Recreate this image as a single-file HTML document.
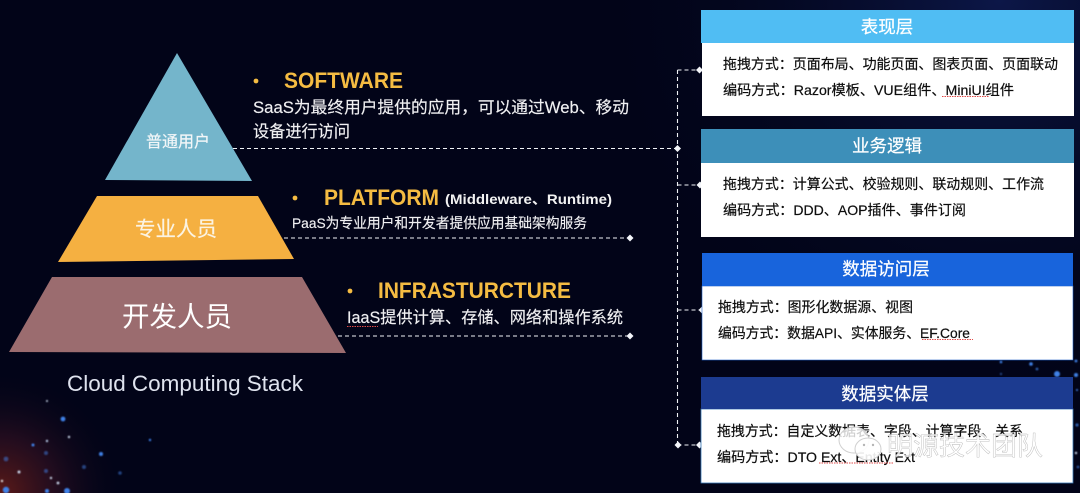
<!DOCTYPE html>
<html lang="zh"><head><meta charset="utf-8"><title>Cloud Computing Stack</title>
<style>
html,body{margin:0;padding:0;background:#020418;width:1080px;height:493px;overflow:hidden}
svg{display:block}
text{font-family:"Liberation Sans","Noto Sans CJK SC",sans-serif}
.c{font-family:"Noto Sans CJK TC",sans-serif}
.body{font-size:14px;fill:#0a0a0a;stroke:#0a0a0a;stroke-width:.18}
.head{font-size:17.5px;fill:#fff;text-anchor:middle;stroke:#fff;stroke-width:.2}
.ttl{font-size:22px;font-weight:bold;fill:#f5bc42}
.desc{fill:#f0f0f2;stroke:#f0f0f2;stroke-width:.15}
.dash{stroke:#f0f2f6;stroke-width:1.1;stroke-dasharray:4 3;fill:none}
.dm{fill:#f4f6fa}
.sq{stroke:#e04a48;stroke-width:1.1;stroke-dasharray:1.5 1;fill:none}
</style></head><body>
<svg width="1080" height="493" viewBox="0 0 1080 493" xmlns="http://www.w3.org/2000/svg">
<defs>
<radialGradient id="red" gradientUnits="userSpaceOnUse" cx="0" cy="493" r="125"><stop offset="0" stop-color="#5c1a18"/><stop offset=".45" stop-color="#2c0f20" stop-opacity=".75"/><stop offset="1" stop-color="#020418" stop-opacity="0"/></radialGradient>
<radialGradient id="blu" gradientUnits="userSpaceOnUse" cx="1000" cy="0" r="420"><stop offset="0" stop-color="#0c1748"/><stop offset="1" stop-color="#020418" stop-opacity="0"/></radialGradient>
<filter id="b" x="-5%" y="-20%" width="110%" height="140%"><feGaussianBlur stdDeviation=".35"/></filter>
<filter id="s" x="-100%" y="-100%" width="300%" height="300%"><feGaussianBlur stdDeviation=".8"/></filter>
</defs>
<rect width="1080" height="493" fill="#020418"/>
<rect width="1080" height="493" fill="url(#blu)"/>
<rect y="340" width="150" height="153" fill="url(#red)"/>

<g filter="url(#s)" fill="#3f82e8">
<circle cx="63" cy="419" r="2.4"/><circle cx="101" cy="454" r="2"/><circle cx="33" cy="445" r="1.5"/><circle cx="47" cy="441" r="1.2" fill="#b8cce8"/>
<circle cx="6" cy="459" r="2.4" opacity=".5"/><circle cx="46" cy="453" r="2" opacity=".5"/><circle cx="84" cy="467" r="2" opacity=".5"/><circle cx="46" cy="471" r="2" opacity=".5"/>
<circle cx="19" cy="472" r="1.5" fill="#c8d4e8"/><circle cx="51" cy="478" r="1.2" fill="#c8d4e8"/><circle cx="58" cy="483" r="1.4" fill="#c8d4e8"/><circle cx="2" cy="481" r="1.2" fill="#e0e0e0"/>
<circle cx="6" cy="490" r="3.2"/><circle cx="47" cy="491" r="2"/><circle cx="67" cy="491" r="3"/><circle cx="150" cy="440" r="1.2"/><circle cx="120" cy="473" r="1.8" opacity=".5"/><circle cx="69" cy="437" r="1.2" fill="#c8d4e8"/><circle cx="47" cy="401" r="1" fill="#c8d4e8"/>
<circle cx="1057" cy="374" r="3"/><circle cx="1031" cy="364" r="1.8"/><circle cx="1037" cy="369" r="1.4" opacity=".7"/><circle cx="1076" cy="375" r="2"/><circle cx="1076" cy="361" r="1.4"/><circle cx="1001" cy="362" r="1.3"/><circle cx="1001" cy="374" r="1.2" opacity=".5"/><circle cx="1077" cy="390" r="1"/><circle cx="1077" cy="425" r="1.6" opacity=".7"/><circle cx="1076" cy="453" r="1.2" fill="#c8d4e8"/><circle cx="1078" cy="467" r="1.4" opacity=".6"/>
</g>

<polygon points="177,53 105,180 252,181" fill="#74b5cb"/>
<polygon points="97,196 258,196 294,259 58,262" fill="#f5b041"/>
<polygon points="52,277 302,277 346,353 9,352" fill="#9b6c6f"/>

<g filter="url(#b)">
<text x="178" y="147" font-size="16" fill="#f2f6f8" stroke="#f2f6f8" stroke-width=".2" text-anchor="middle">普通用户</text>
<text x="176" y="236" font-size="20.5" fill="#fbf3e2" stroke="#fbf3e2" stroke-width=".2" text-anchor="middle">专业人员</text>
<text x="177" y="326" font-size="27.5" fill="#fff" text-anchor="middle">开发人员</text>
<text x="67" y="391" font-size="22" fill="#dfe3ee" textLength="236" lengthAdjust="spacingAndGlyphs">Cloud Computing Stack</text>

<circle cx="256" cy="81" r="2.4" fill="#f5bc42"/>
<text class="ttl" x="284" y="88" textLength="119" lengthAdjust="spacingAndGlyphs">SOFTWARE</text>
<text class="desc" x="253" y="113" font-size="16.2" textLength="376" lengthAdjust="spacingAndGlyphs">SaaS为最终用户提供的应用，可以通过Web、移动</text>
<text class="desc" x="253" y="137" font-size="16.2" textLength="97" lengthAdjust="spacingAndGlyphs">设备进行访问</text>

<circle cx="295" cy="198" r="2.4" fill="#f5bc42"/>
<text class="ttl" x="324" y="205" textLength="115" lengthAdjust="spacingAndGlyphs">PLATFORM</text>
<text x="445" y="204" font-size="14" font-weight="bold" fill="#f2f2f2" textLength="167" lengthAdjust="spacingAndGlyphs">(Middleware、Runtime)</text>
<text class="desc" x="292" y="228" font-size="14" textLength="295" lengthAdjust="spacingAndGlyphs">PaaS为专业用户和开发者提供应用基础架构服务</text>

<circle cx="350" cy="291" r="2.4" fill="#f5bc42"/>
<text class="ttl" x="378" y="298" textLength="193" lengthAdjust="spacingAndGlyphs">INFRASTURCTURE</text>
<text class="desc" x="347" y="323" font-size="16.4" textLength="276" lengthAdjust="spacingAndGlyphs">IaaS提供计算、存储、网络和操作系统</text>
</g>
<path class="sq" d="M347 326.5H378"/>

<path class="dash" d="M233 148.5H677M284 238H630M338 336H630M677.5 70V445M677.5 70H700M677.5 185H700M677.5 310H701M677.5 445H699"/>
<g class="dm">
<path d="M677.5 145l3.5 3.5-3.5 3.5-3.5-3.5z"/><path d="M630 234.500l3.500 3.500-3.500 3.500-3.500-3.500z"/><path d="M630 332.500l3.500 3.500-3.500 3.500-3.500-3.500z"/>
<path d="M678 441.500l3.500 3.500-3.500 3.500-3.500-3.500z"/><path d="M699.5 66.500l3.500 3.500-3.500 3.500-3.500-3.500z"/><path d="M700 181.500l3.500 3.500-3.500 3.500-3.500-3.500z"/><path d="M702 306.500l3.500 3.500-3.500 3.500-3.500-3.500z"/><path d="M699.500 441.500l3.500 3.500-3.500 3.500-3.500-3.500z"/>
</g>

<rect x="702" y="43" width="372" height="73" fill="#fff"/>
<rect x="701" y="10" width="373" height="33" fill="#50bdf3"/>
<rect x="701" y="163" width="373" height="74" fill="#fff"/>
<rect x="701" y="129" width="373" height="34" fill="#3d8fb9"/>
<rect x="702" y="286" width="371" height="74" fill="#fff" stroke="#1f60c8" stroke-width=".6"/>
<rect x="702" y="253" width="371" height="33" fill="#1864dc"/>
<rect x="701" y="409" width="372" height="74" fill="#fff" stroke="#3878b8" stroke-width=".8"/>
<rect x="701" y="377" width="372" height="32" fill="#1c3b90"/>

<g filter="url(#b)">
<text class="head" x="887" y="33">表现层</text>
<text class="head" x="887" y="152">业务逻辑</text>
<text class="head" x="886" y="275">数据访问层</text>
<text class="head" x="885" y="400">数据实体层</text>

<text class="body" x="723" y="69" textLength="335" lengthAdjust="spacingAndGlyphs">拖拽方式<tspan class="c">：</tspan>页面布局、功能页面、图表页面、页面联动</text>
<text class="body" x="723" y="95" textLength="291" lengthAdjust="spacingAndGlyphs">编码方式<tspan class="c">：</tspan>Razor模板、VUE组件、MiniUI组件</text>
<text class="body" x="723" y="189" textLength="321" lengthAdjust="spacingAndGlyphs">拖拽方式<tspan class="c">：</tspan>计算公式、校验规则、联动规则、工作流</text>
<text class="body" x="723" y="215" textLength="243" lengthAdjust="spacingAndGlyphs">编码方式<tspan class="c">：</tspan>DDD、AOP插件、事件订阅</text>
<text class="body" x="718" y="312" textLength="195" lengthAdjust="spacingAndGlyphs">拖拽方式<tspan class="c">：</tspan>图形化数据源、视图</text>
<text class="body" x="718" y="338" textLength="252" lengthAdjust="spacingAndGlyphs">编码方式<tspan class="c">：</tspan>数据API、实体服务、EF.Core</text>
<text class="body" x="717" y="436" textLength="306" lengthAdjust="spacingAndGlyphs">拖拽方式<tspan class="c">：</tspan>自定义数据表、字段、计算字段、关系</text>
<text class="body" x="717" y="462" textLength="198" lengthAdjust="spacingAndGlyphs">编码方式<tspan class="c">：</tspan>DTO Ext、Entity Ext</text>
</g>
<path class="sq" d="M942 96.500H989M922 339.500H973M819 463H893"/>

<g>
<ellipse cx="854" cy="440" rx="15" ry="13" fill="#fff" fill-opacity=".8" stroke="#cfcfcf"/>
<ellipse cx="868" cy="449" rx="13" ry="11" fill="#fff" fill-opacity=".9" stroke="#cfcfcf"/>
<circle cx="864" cy="445" r="1.200" fill="#b5b5b5"/><circle cx="873" cy="445" r="1.200" fill="#b5b5b5"/>
<text x="887" y="455" font-size="26" fill="#fff" fill-opacity=".8" stroke="#b5b5b5" stroke-width=".4" textLength="156" lengthAdjust="spacingAndGlyphs">明源技术团队</text>
</g>
</svg>
</body></html>
